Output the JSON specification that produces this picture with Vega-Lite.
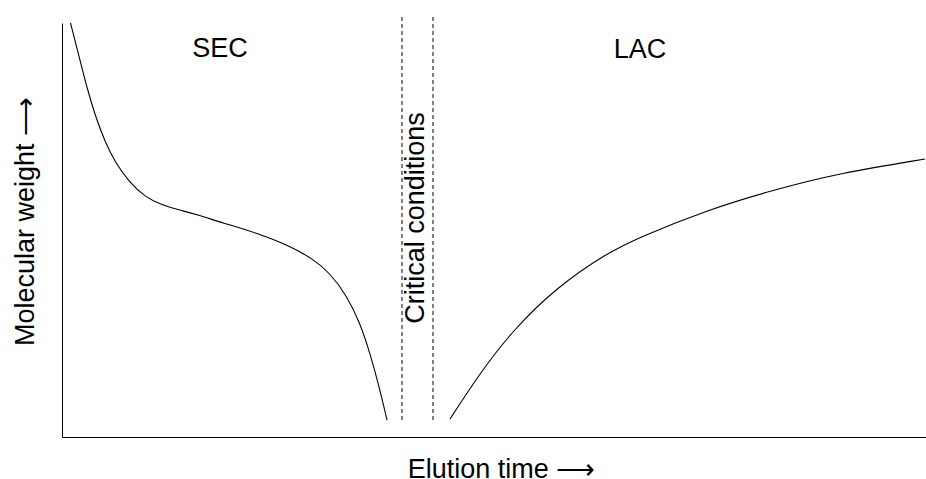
{
  "$schema": "https://vega.github.io/schema/vega-lite/v6.json",
  "width": 864,
  "height": 414,
  "autosize": {"type": "none"},
  "padding": {"left": 62, "top": 23, "right": 0, "bottom": 42},
  "background": "white",
  "config": {
    "view": {"stroke": null},
    "font": "Liberation Sans",
    "axis": {
      "domainColor": "black",
      "domainWidth": 1,
      "ticks": false,
      "labels": false,
      "grid": false,
      "titleFont": "Liberation Sans",
      "titleFontSize": 27,
      "titleFontWeight": "normal",
      "titleColor": "black"
    }
  },
  "datasets": {
    "sec": [
      {"t": 8.5, "mw": 414},
      {"t": 16.7, "mw": 382},
      {"t": 25, "mw": 349},
      {"t": 33, "mw": 322},
      {"t": 43, "mw": 295},
      {"t": 53, "mw": 275},
      {"t": 67, "mw": 255},
      {"t": 83, "mw": 240},
      {"t": 100, "mw": 232},
      {"t": 117, "mw": 227},
      {"t": 133, "mw": 223},
      {"t": 161, "mw": 214},
      {"t": 195, "mw": 204},
      {"t": 228, "mw": 191},
      {"t": 251, "mw": 178},
      {"t": 268, "mw": 164},
      {"t": 285, "mw": 141},
      {"t": 298, "mw": 114},
      {"t": 308, "mw": 84},
      {"t": 318, "mw": 47},
      {"t": 325, "mw": 17}
    ],
    "lac": [
      {"t": 388, "mw": 18},
      {"t": 418, "mw": 64},
      {"t": 451, "mw": 107},
      {"t": 495, "mw": 150},
      {"t": 545, "mw": 184},
      {"t": 578, "mw": 200},
      {"t": 645, "mw": 227},
      {"t": 711, "mw": 247},
      {"t": 778, "mw": 264},
      {"t": 863, "mw": 278}
    ],
    "critical": [
      {"t": 340, "lo": 17, "hi": 422},
      {"t": 371, "lo": 17, "hi": 422}
    ],
    "labels": [
      {"t": 158, "mw": 388, "label": "SEC", "angle": 0},
      {"t": 578, "mw": 387, "label": "LAC", "angle": 0},
      {"t": 354, "mw": 219, "label": "Critical conditions", "angle": 270}
    ]
  },
  "encoding": {
    "x": {
      "field": "t",
      "type": "quantitative",
      "scale": {"domain": [0, 864], "nice": false, "zero": false},
      "axis": {"title": "Elution time ⟶", "titlePadding": 19, "titleX": 439}
    },
    "y": {
      "field": "mw",
      "type": "quantitative",
      "scale": {"domain": [0, 414], "nice": false, "zero": false},
      "axis": {"title": "Molecular weight ⟶", "titlePadding": 23, "titleY": 198}
    }
  },
  "layer": [
    {
      "data": {"name": "sec"},
      "mark": {"type": "line", "color": "black", "strokeWidth": 1.1, "interpolate": "basis", "clip": false}
    },
    {
      "data": {"name": "lac"},
      "mark": {"type": "line", "color": "black", "strokeWidth": 1.1, "interpolate": "basis", "clip": false}
    },
    {
      "data": {"name": "critical"},
      "mark": {"type": "rule", "color": "black", "strokeWidth": 1, "strokeDash": [4, 3], "clip": false},
      "encoding": {
        "y": {"field": "lo", "type": "quantitative"},
        "y2": {"field": "hi"}
      }
    },
    {
      "data": {"name": "labels"},
      "mark": {"type": "text", "fontSize": 27, "color": "black", "align": "center", "baseline": "middle", "font": "Liberation Sans"},
      "encoding": {
        "text": {"field": "label"},
        "angle": {"field": "angle", "type": "quantitative", "scale": null}
      }
    }
  ]
}
